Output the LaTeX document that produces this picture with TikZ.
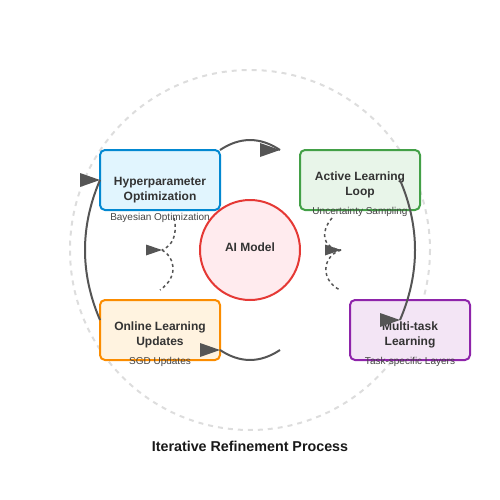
\documentclass[tikz,border=0pt]{standalone}
\usepackage{fontspec}
\setmainfont{Liberation Sans}
\definecolor{ringgray}{HTML}{DDDDDD}
\definecolor{arrowgray}{HTML}{555555}
\definecolor{txt}{HTML}{333333}
\definecolor{subtxt}{HTML}{444444}
\definecolor{blueF}{HTML}{E1F5FE}\definecolor{blueD}{HTML}{0288D1}
\definecolor{greenF}{HTML}{E8F5E9}\definecolor{greenD}{HTML}{43A047}
\definecolor{orangeF}{HTML}{FFF3E0}\definecolor{orangeD}{HTML}{FB8C00}
\definecolor{purpleF}{HTML}{F3E5F5}\definecolor{purpleD}{HTML}{8E24AA}
\definecolor{redF}{HTML}{FFEBEE}\definecolor{redD}{HTML}{E53935}
\begin{document}
\begin{tikzpicture}[x=1pt,y=-1pt,
  stagebox/.style={rectangle, rounded corners=5pt, line width=2pt, minimum width=120pt, minimum height=60pt, inner sep=0pt, outer sep=0pt},
  boxtitle/.style={font=\fontsize{12}{15}\selectfont\bfseries, text=txt, align=center, inner sep=0pt},
  boxsub/.style={font=\fontsize{10}{12}\selectfont, text=subtxt, inner sep=0pt},
  flow/.style={draw=arrowgray, line width=2pt},
  dflow/.style={draw=arrowgray, line width=1.5pt, dash pattern=on 3pt off 3pt},
  bighead/.pic={\fill[arrowgray] (0,0) -- (-20,-7) -- (-20,7) -- cycle;},
  smallhead/.pic={\fill[arrowgray] (0,0) -- (-16,-5.5) -- (-16,5.5) -- cycle;}
]
\useasboundingbox (0,0) rectangle (500,500);
% outer ring
\draw[ringgray, line width=2pt, dash pattern=on 5pt off 5pt] (250,250) circle[radius=180];
% center
\node[circle, minimum size=100pt, inner sep=0pt, fill=redF, draw=redD, line width=2pt] (core) at (250,250) {};
\node[boxtitle] (coretxt) at (250,247) {AI Model};
% boxes
\node[stagebox, fill=blueF, draw=blueD] (hyp) at (160,180) {};
\node[stagebox, fill=greenF, draw=greenD] (act) at (360,180) {};
\node[stagebox, fill=orangeF, draw=orangeD] (onl) at (160,330) {};
\node[stagebox, fill=purpleF, draw=purpleD] (mul) at (410,330) {};
\node[boxtitle] (hypt) at (160,190) {Hyperparameter\\Optimization};
\node[boxsub] (hyps) at (160,217.5) {Bayesian Optimization};
\node[boxtitle] (actt) at (360,185) {Active Learning\\Loop};
\node[boxsub] (acts) at (360,212) {Uncertainty Sampling};
\node[boxtitle] (onlt) at (160,335) {Online Learning\\Updates};
\node[boxsub] (onls) at (160,362) {SGD Updates};
\node[boxtitle] (mult) at (410,335) {Multi-task\\Learning};
\node[boxsub] (muls) at (410,362) {Task-specific Layers};
% connector end points
\coordinate (t0) at (hyp.north east);
\coordinate (t1) at (280,150);
\coordinate (r0) at (400,180);
\coordinate (r1) at (400,320);
\coordinate (b0) at (280,350);
\coordinate (b1) at (onl.north east |- 0,350);
\coordinate (l0) at (100,320);
\coordinate (l1) at (100,180);
\coordinate (dl0) at (174,218);
\coordinate (dlm) at (162,250);
\coordinate (dl1) at (160,290);
\coordinate (dr0) at (332,218);
\coordinate (drm) at (341,250);
\coordinate (dr1) at (340,290);
% solid cycle arrows
\draw[flow] (t0) .. controls (240,136.7) and (260,136.7) .. (t1);
\pic at (t1) {bighead};
\draw[flow] (r0) .. controls (420,226.7) and (420,273.3) .. (r1);
\pic at (r1) {bighead};
\draw[flow] (b0) .. controls (260,363.3) and (240,363.3) .. (b1);
\pic at (b1) {bighead};
\draw[flow] (l0) .. controls (80,273.3) and (80,226.7) .. (l1);
\pic at (l1) {bighead};
% dashed feedback arrows
\draw[dflow] (dl0) .. controls (178,235) and (172,246) .. (dlm);
\draw[dflow] (dlm) .. controls (174,256) and (180,276) .. (dl1);
\pic at (dlm) {smallhead};
\draw[dflow] (dr0) .. controls (320,232) and (322,248) .. (drm);
\draw[dflow] (drm) .. controls (322,256) and (320,280) .. (dr1);
\pic at (drm) {smallhead};
% title
\node[font=\fontsize{14.3}{16}\selectfont\bfseries, text=black!90, inner sep=0pt] (title) at (250,446) {Iterative Refinement Process};
\end{tikzpicture}
\end{document}
